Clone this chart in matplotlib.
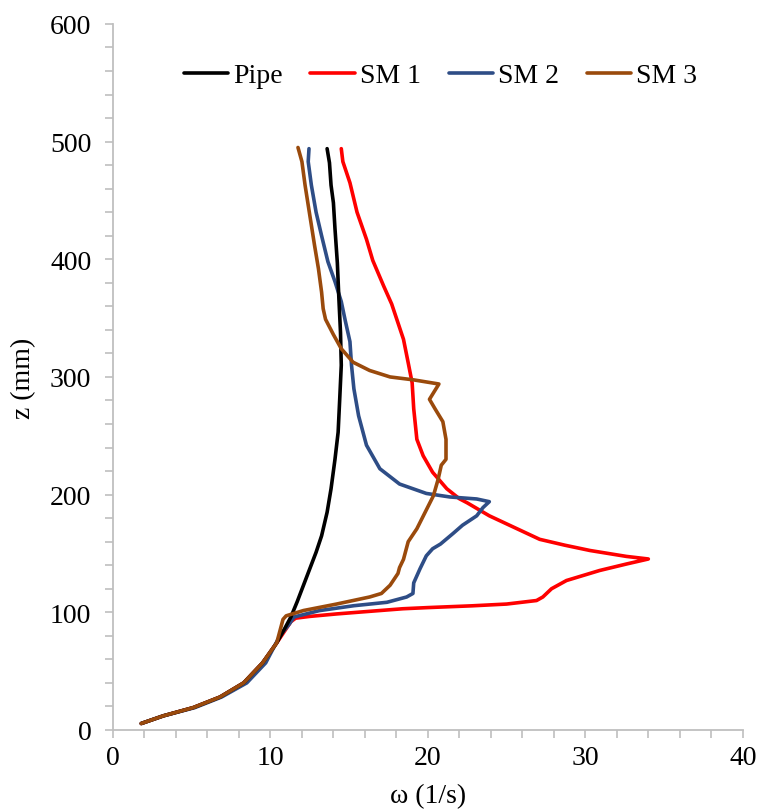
import matplotlib
matplotlib.use("Agg")
import matplotlib.pyplot as plt
from matplotlib.ticker import MultipleLocator

plt.rcParams['font.family'] = ['Liberation Serif', 'DejaVu Serif']

# common lower part (same for all series)
low_x = [10.4, 9.5, 8.3, 6.8, 5.1, 3.2, 1.8]
low_y = [74, 57, 40, 28, 19, 12, 5.5]

pipe_x = [13.6, 13.75, 13.85, 14.0, 14.1, 14.25, 14.35, 14.45, 14.5, 14.4, 14.3, 14.1,
          13.85, 13.6, 13.25, 12.9, 12.5, 12.1, 11.7, 11.3, 10.9]
pipe_y = [494, 482, 463, 448, 426, 397, 366, 338, 310, 281, 253, 230,
          205, 185, 165, 151, 137, 123, 109, 96, 86]

sm1_x = [14.5, 14.6, 15.05, 15.5, 16.1, 16.5, 17.2, 17.7, 18.1, 18.45, 18.75, 19.0,
         19.1, 19.3, 19.7, 20.3, 21.2, 22.0, 22.5, 23.9, 25.5, 27.1, 28.7, 30.3,
         32.6, 34.0, 32.6, 30.9, 28.8, 27.85, 27.3, 26.9, 25.0, 22.8, 20.0, 18.4,
         16.0, 14.2, 12.5, 11.6, 11.3, 11.0]
sm1_y = [494, 483, 465, 440, 417, 399, 377, 362, 346, 332, 312, 295,
         273, 247, 233, 219, 205, 196.5, 193, 182, 172, 162, 157, 152.5,
         147.5, 145.3, 141, 135.5, 127, 120, 113, 110, 107, 105.5, 104, 103,
         100.5, 98.6, 96.5, 95, 92, 86]

sm2_x = [12.45, 12.4, 12.6, 12.9, 13.25, 13.65, 14.1, 14.5, 14.75, 15.05, 15.15, 15.3,
         15.6, 16.1, 16.95, 18.2, 19.9, 21.4, 23.1, 23.9, 23.5, 23.1, 22.2, 21.6,
         20.8, 20.3, 19.9, 19.5, 19.1, 19.05, 18.65, 17.4, 15.3, 13.1, 11.5, 11.2,
         10.6, 9.7, 8.5, 6.9, 5.2]
sm2_y = [494, 483, 463, 440, 420, 398, 381, 364, 348, 330, 310, 290,
         267, 242, 222, 209, 201, 198, 196.3, 194, 189, 182, 174, 167,
         158, 154, 148, 137, 125, 116, 113, 108.5, 105.6, 101.4, 96, 90,
         80, 57, 40, 28, 19]

sm3_x = [11.75, 12.0, 12.2, 12.4, 12.6, 12.8, 13.05, 13.25, 13.35, 13.5, 14.0, 14.5,
         15.25, 16.3, 17.6, 19.1, 20.7, 20.1, 20.45, 20.95, 21.15, 21.15, 20.85, 20.65,
         20.35, 19.9, 19.3, 18.75, 18.45, 18.2, 18.1, 17.6, 17.05, 16.3, 14.2, 12.1,
         11.0, 10.8, 10.7]
sm3_y = [495, 483, 463, 446, 429, 412, 392, 372, 358, 349, 336, 324,
         312.5, 305.5, 300, 297.5, 294, 281, 273, 262, 247, 230, 225, 213,
         199, 187, 171, 160, 145, 138, 133, 123, 116, 113, 107, 101.5,
         97, 94, 89]

names = ['Pipe', 'SM 1', 'SM 2', 'SM 3']
colors = ['#000000', '#FF0000', '#2E4D86', '#9A4A0C']

fig = plt.figure(figsize=(7.58, 8.12), dpi=100)
ax = fig.add_axes([0.149, 0.0998, 0.831, 0.8695])

lw = 2.6
kw = dict(lw=lw, solid_joinstyle='round', solid_capstyle='round')
ax.plot(sm1_x + low_x, sm1_y + low_y, color=colors[1], label=names[1], zorder=2, **kw)
ax.plot(sm2_x + low_x[-2:], sm2_y + low_y[-2:], color=colors[2], label=names[2], zorder=3, **kw)
ax.plot(pipe_x + low_x, pipe_y + low_y, color=colors[0], label=names[0], zorder=4, **kw)
ax.plot(sm3_x + low_x, sm3_y + low_y, color=colors[3], label=names[3], zorder=5, **kw)

ax.set_xlim(0, 40)
ax.set_ylim(0, 600)
ax.xaxis.set_major_locator(MultipleLocator(10))
ax.xaxis.set_minor_locator(MultipleLocator(2))
ax.yaxis.set_major_locator(MultipleLocator(100))
ax.yaxis.set_minor_locator(MultipleLocator(20))

for s in ['top', 'right']:
    ax.spines[s].set_visible(False)
for s in ['left', 'bottom']:
    ax.spines[s].set_color('#BFBFBF')
    ax.spines[s].set_linewidth(1.3)

ax.tick_params(which='both', direction='out', color='#BFBFBF', width=1.2, length=5.5,
               labelsize=20)
ax.tick_params(axis='y', which='major', pad=10)
ax.tick_params(axis='x', which='major', pad=5)

ax.set_xlabel('ω (1/s)', fontsize=20, labelpad=10)
ax.set_ylabel('z (mm)', fontsize=20, labelpad=10)

h, l = ax.get_legend_handles_labels()
order = [l.index(n) for n in names]
ax.legend([h[i] for i in order], [l[i] for i in order], ncol=4, frameon=False,
          fontsize=20, loc='upper center', bbox_to_anchor=(0.52, 0.98),
          handlelength=1.6, handletextpad=0.18, columnspacing=1.0)

fig.savefig('out.png', dpi=100)
